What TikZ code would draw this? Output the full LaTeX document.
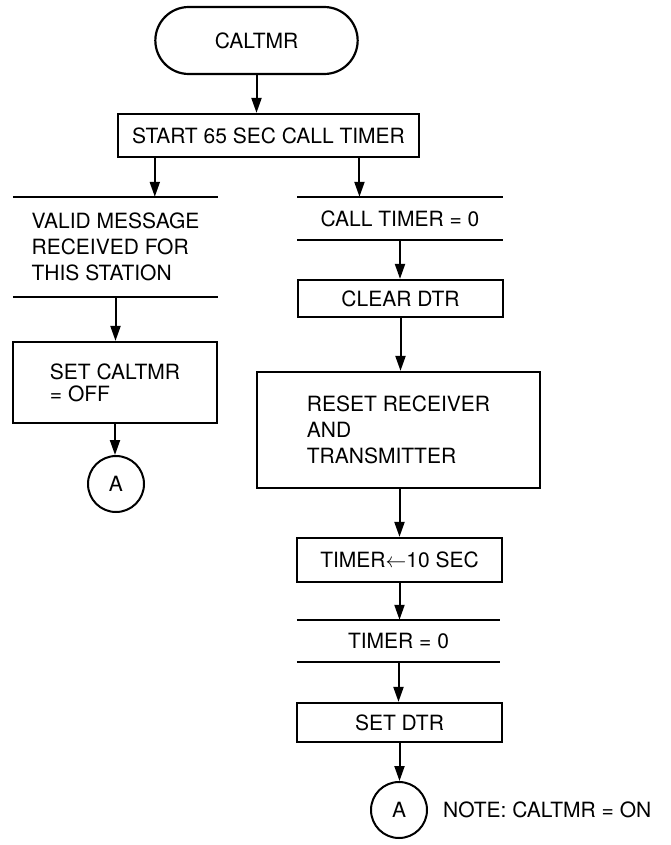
\documentclass[tikz,border=0pt]{standalone}
\usepackage{fontspec}
\setmainfont{TeX Gyre Heros}
\usetikzlibrary{shapes.misc}
\usetikzlibrary{positioning}
\usetikzlibrary{arrows.meta}
\usetikzlibrary{calc}
\tikzset{
terminal/.style={rounded rectangle, draw, line width=2.2pt, minimum width=209pt, minimum height=67pt},
process/.style={rectangle, draw, line width=2.2pt, minimum width=205pt},
condition/.style={rectangle, minimum width=205pt},
rule/.style={line width=2.2pt},
connector/.style={circle, draw, line width=2pt, minimum size=56pt, inner sep=0pt},
flow/.style={-{Triangle[length=15pt,width=10pt]}, line width=2pt}
}

\begin{document}
\begin{tikzpicture}[x=1pt, y=-1pt,
    every node/.style={font=\fontsize{21}{26}\selectfont}]
    \useasboundingbox (0,0) rectangle (671,845);

    \node[terminal] (caltmr) at (256.5,40.5) {CALTMR};
    \node[process, minimum width=301pt, minimum height=43pt] (start_timer) at (268.5,135.5) {START 65 SEC CALL TIMER};

    % left branch
    \node[condition, minimum height=100pt, align=left] (valid_msg) at (115.5,247) {VALID MESSAGE\\RECEIVED FOR\\THIS STATION};
    \node[process, minimum width=204pt, minimum height=81pt, align=left, font=\fontsize{21}{22}\selectfont] (set_off) at (115,382.5) {SET CALTMR\\= OFF};
    \node[connector] (a_left) at (116,484) {A};

    % right branch
    \node[condition, minimum height=43pt] (call_zero) at (400,218.5) {CALL TIMER = 0};
    \node[process, minimum height=37pt] (clear_dtr) at (400.5,298.5) {CLEAR DTR};
    \node[process, minimum width=283pt, minimum height=116pt, align=left] (reset_rt) at (398.5,430) {RESET RECEIVER\\AND\\TRANSMITTER};
    \node[process, minimum height=44pt] (timer_ten) at (399.5,560) {TIMER$\leftarrow$10 SEC};
    \node[condition, minimum width=203pt, minimum height=42pt] (timer_zero) at (398.5,641) {TIMER = 0};
    \node[process, minimum height=39pt] (set_dtr) at (399.5,722.5) {SET DTR};
    \node[connector] (a_right) at (399,810) {A};
    \node[anchor=west, inner sep=0pt] (note) [right=15pt of a_right] {NOTE: CALTMR = ON};

    % decision rules
    \foreach \c in {valid_msg, call_zero, timer_zero} {
        \draw[rule] (\c.north west) -- (\c.north east);
        \draw[rule] (\c.south west) -- (\c.south east);
    }

    \coordinate (out_left) at ($(start_timer.south west)!0.125!(start_timer.south east)$);
    \coordinate (out_right) at ($(start_timer.south west)!0.8!(start_timer.south east)$);

    \draw[flow] (caltmr.south) -- (caltmr.south |- start_timer.north);
    \draw[flow] (out_left) -- (out_left |- valid_msg.north);
    \draw[flow] (out_right) -- (out_right |- call_zero.north);
    \draw[flow] (valid_msg.south) -- (valid_msg.south |- set_off.north);
    \draw[flow] (set_off.south) -- (set_off.south |- a_left.north);
    \draw[flow] (call_zero.south) -- (call_zero.south |- clear_dtr.north);
    \draw[flow] (clear_dtr.south) -- (clear_dtr.south |- reset_rt.north);
    \draw[flow] (timer_ten.north |- reset_rt.south) -- (timer_ten.north);
    \draw[flow] (timer_ten.south) -- (timer_ten.south |- timer_zero.north);
    \draw[flow] (timer_zero.south) -- (timer_zero.south |- set_dtr.north);
    \draw[flow] (set_dtr.south) -- (set_dtr.south |- a_right.north);
\end{tikzpicture}
\end{document}
